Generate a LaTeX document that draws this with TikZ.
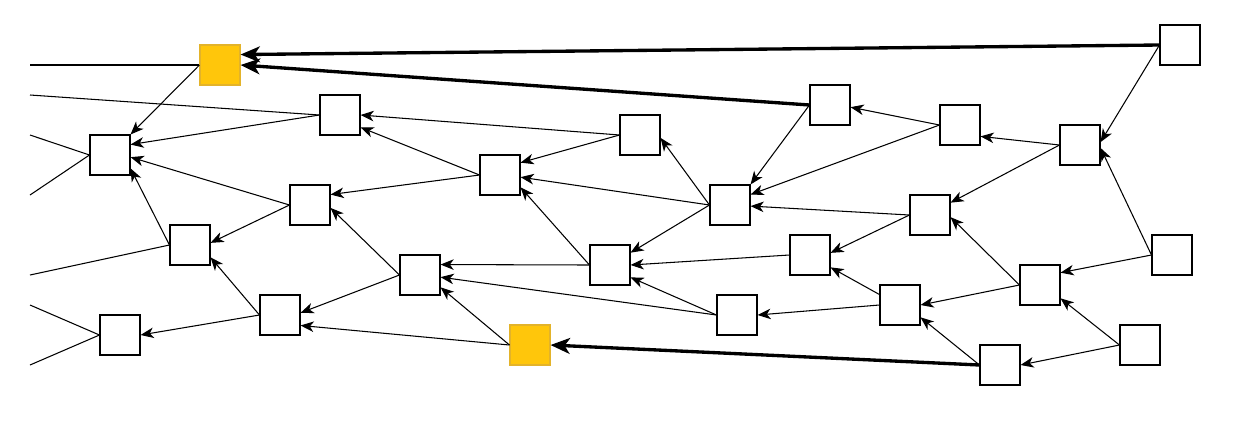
\documentclass[tikz,border=0pt]{standalone}
\usetikzlibrary{arrows.meta}
\definecolor{blockyellow}{HTML}{FFC60B}
\definecolor{blockedge}{HTML}{E3B32A}

\begin{document}
\begin{tikzpicture}[
  block/.style={draw, fill=white, minimum size=0.8cm, inner sep=0pt, line width=0.6pt},
  chosen/.style={block, draw=blockedge, fill=blockyellow},
  ref/.style={-{Stealth[length=7.5pt,width=6pt,inset=2.2pt]}, line width=0.6pt},
  best/.style={-{Stealth[length=11pt,width=9pt,inset=3pt]}, line width=1.9pt},
  tail/.style={line width=0.6pt}]
\useasboundingbox (0,0) rectangle (25,-8.82);

% blocks
\node[chosen] (y1) at (4.4, -1.3) {};
\node[chosen] (y2) at (10.6, -6.9) {};

\node[block] (a) at (23.6, -0.9) {};
\node[block] (b) at (16.6, -2.1) {};
\node[block] (c) at (6.8, -2.3) {};
\node[block] (d) at (19.2, -2.5) {};
\node[block] (e) at (12.8, -2.7) {};
\node[block] (f) at (2.2, -3.1) {};
\node[block] (g) at (21.6, -2.9) {};
\node[block] (h) at (10.0, -3.5) {};
\node[block] (i) at (6.2, -4.1) {};
\node[block] (j) at (14.6, -4.1) {};
\node[block] (k) at (18.6, -4.3) {};
\node[block] (l) at (3.8, -4.9) {};
\node[block] (m) at (16.2, -5.1) {};
\node[block] (n) at (12.2, -5.3) {};
\node[block] (o) at (23.44, -5.1) {};
\node[block] (p) at (8.4, -5.5) {};
\node[block] (q) at (20.8, -5.7) {};
\node[block] (r) at (18.0, -6.1) {};
\node[block] (s) at (5.6, -6.3) {};
\node[block] (t) at (14.74, -6.3) {};
\node[block] (u) at (2.4, -6.7) {};
\node[block] (v) at (22.8, -6.9) {};
\node[block] (w) at (20.0, -7.3) {};

% loose ends on the left
\coordinate (t1) at (0.6, -1.3);
\coordinate (t2) at (0.6, -1.9);
\coordinate (t3) at (0.6, -2.7);
\coordinate (t4) at (0.6, -3.9);
\coordinate (t5) at (0.6, -5.5);
\coordinate (t6) at (0.6, -6.1);
\coordinate (t7) at (0.6, -7.3);

\draw[tail] (t1) -- (y1.west);
\draw[tail] (t2) -- (c.west);
\draw[tail] (t3) -- (f.west);
\draw[tail] (t4) -- (f.west);
\draw[tail] (t5) -- (l.west);
\draw[tail] (t6) -- (u.west);
\draw[tail] (t7) -- (u.west);

% references
\draw[ref] (y1.west) -- (f.north east);
\draw[ref] (c.west) -- (f.27);
\draw[ref] (i.west) -- (f.-6);
\draw[ref] (l.west) -- (f.-33);
\draw[ref] (i.west) -- (l.6);
\draw[ref] (s.west) -- (l.-31);
\draw[ref] (s.west) -- (u.east);
\draw[ref] (p.west) -- (s.6);
\draw[ref] (y2.west) -- (s.-27);
\draw[ref] (p.west) -- (i.-8);
\draw[ref] (h.west) -- (i.27);
\draw[ref] (h.west) -- (c.-31);
\draw[ref] (e.west) -- (c.east);
\draw[ref] (e.west) -- (h.31);
\draw[ref] (j.west) -- (h.-6);
\draw[ref] (n.west) -- (h.-31);
\draw[ref] (n.west) -- (p.27);
\draw[ref] (t.west) -- (p.-6);
\draw[ref] (y2.west) -- (p.-31);
\draw[ref] (t.west) -- (n.-31);
\draw[ref] (m.west) -- (n.east);
\draw[ref] (j.west) -- (n.31);
\draw[ref] (j.west) -- (e.-8);
\draw[ref] (d.west) -- (b.-6);
\draw[ref] (d.west) -- (j.27);
\draw[ref] (b.west) -- (j.north east);
\draw[ref] (k.west) -- (j.-3);
\draw[ref] (k.west) -- (m.6);
\draw[ref] (r.153) -- (m.-31);
\draw[ref] (g.west) -- (d.-29);
\draw[ref] (g.west) -- (k.31);
\draw[ref] (q.west) -- (k.-6);
\draw[ref] (a.west) -- (g.8);
\draw[ref] (o.west) -- (g.-8);
\draw[ref] (o.west) -- (q.31);
\draw[ref] (v.west) -- (q.-33);
\draw[ref] (q.west) -- (r.east);
\draw[ref] (w.west) -- (r.-31);
\draw[ref] (r.west) -- (t.east);
\draw[ref] (v.west) -- (w.east);

% heaviest links
\draw[best] (a.west) -- (y1.27);
\draw[best] (b.west) -- (y1.east);
\draw[best] (w.west) -- (y2.east);

\end{tikzpicture}
\end{document}
